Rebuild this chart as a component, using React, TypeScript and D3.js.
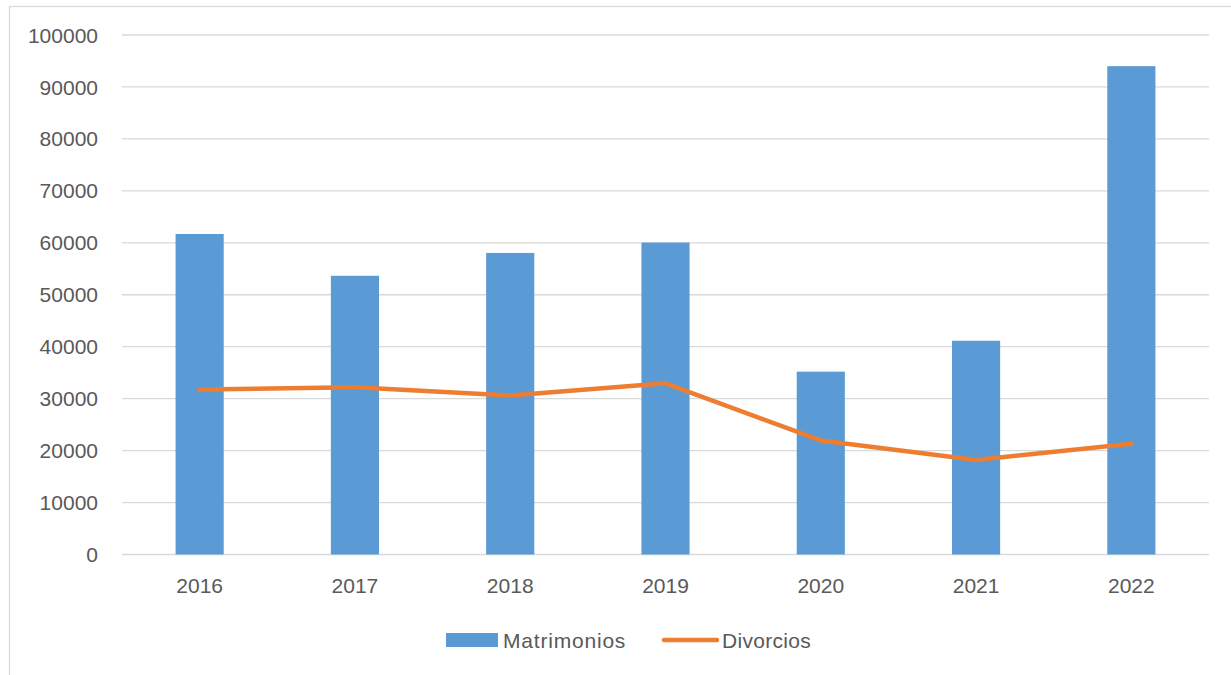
import React from "react";
import * as d3 from "d3";

const years = ["2016", "2017", "2018", "2019", "2020", "2021", "2022"];
const matrimonios = [61700, 53650, 58050, 60050, 35200, 41150, 94000];
const divorcios = [31750, 32200, 30600, 32950, 21950, 18200, 21300];
const yTicks = [0, 10000, 20000, 30000, 40000, 50000, 60000, 70000, 80000, 90000, 100000];

export default function App() {
  const W = 1231, H = 675;
  const left = 122, right = 1209, top = 35, bottom = 554.5;
  const x = d3.scaleBand<string>().domain(years).range([left, right]).paddingInner(0.69).paddingOuter(0.345);
  const y = d3.scaleLinear().domain([0, 100000]).range([bottom, top]);
  const cx = (d: string) => (x(d) as number) + x.bandwidth() / 2;
  const line = d3.line<number>().x((_, i) => cx(years[i])).y((v) => y(v));
  const font = "'Liberation Sans', Arial, sans-serif";
  const txt = "#595959";
  return (
    <svg width={W} height={H} style={{ position: "absolute", left: 0, top: 0 }}>
      <rect x={0} y={0} width={W} height={H} fill="#fff" />
      <rect x={9.5} y={6.5} width={W} height={H} fill="none" stroke="#d9d9d9" strokeWidth={1.2} />
      {yTicks.map((t) => (
        <g key={t}>
          <line x1={left} x2={right} y1={y(t)} y2={y(t)} stroke="#d9d9d9" strokeWidth={1.3} />
          <text x={98} y={y(t)} dy="0.36em" textAnchor="end" fontFamily={font} fontSize={21} fill={txt}>
            {t}
          </text>
        </g>
      ))}
      {years.map((yr, i) => (
        <rect key={yr} x={x(yr)} y={y(matrimonios[i])} width={x.bandwidth()} height={bottom - y(matrimonios[i])} fill="#5b9bd5" />
      ))}
      <path d={line(divorcios) || ""} fill="none" stroke="#ed7d31" strokeWidth={4.5} strokeLinejoin="round" strokeLinecap="round" />
      {years.map((yr) => (
        <text key={yr} x={cx(yr)} y={585} dy="0.36em" textAnchor="middle" fontFamily={font} fontSize={21} fill={txt}>
          {yr}
        </text>
      ))}
      <rect x={446} y={633} width={52} height={14} fill="#5b9bd5" />
      <text x={503} y={640} dy="0.36em" fontFamily={font} fontSize={21} fill={txt} letterSpacing={0.8}>Matrimonios</text>
      <line x1={664} x2={717} y1={640} y2={640} stroke="#ed7d31" strokeWidth={4.5} strokeLinecap="round" />
      <text x={722} y={640} dy="0.36em" fontFamily={font} fontSize={21} fill={txt} letterSpacing={0.3}>Divorcios</text>
    </svg>
  );
}
